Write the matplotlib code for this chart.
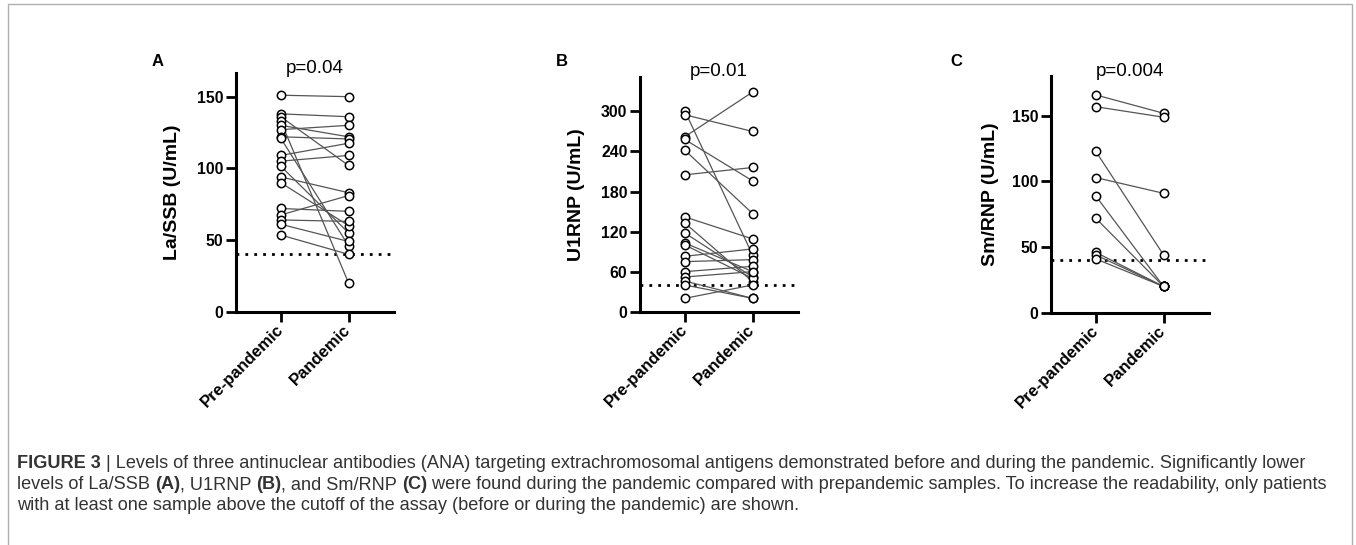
import matplotlib
matplotlib.use("Agg")
import matplotlib.pyplot as plt
from matplotlib.patches import Rectangle

plt.rcParams['font.family'] = ['Liberation Sans', 'DejaVu Sans']

# paired values (pre-pandemic -> pandemic)
la_pre = [151, 138, 136, 133, 130, 127, 122, 121, 109, 105, 101.5, 94, 90, 72, 67.5, 64, 61, 53.5]
la_pan = [150, 136, 102, 20, 122, 130, 120.5, 46, 117.5, 109, 55, 83, 60, 70, 81, 63, 49, 40]

u1_pre = [301, 295, 262, 258, 242, 205, 142, 133, 118, 103, 100, 83, 75, 60, 52, 46, 40, 20]
u1_pan = [85, 270, 329, 196, 147, 216, 109, 45, 52, 60, 50, 94, 78, 68, 60, 20, 20, 40]

sm_pre = [166, 157, 123, 103, 89, 72, 46, 44, 41]
sm_pan = [152, 149, 44, 91, 20, 20, 20, 20, 20]

groups = ['Pre-pandemic', 'Pandemic']
cutoff = 40

panels = [
    dict(letter='A', pre=la_pre, pan=la_pan, ylabel='La/SSB (U/mL)', p='p=0.04',
         yticks=[0, 50, 100, 150], ymax=166.5, rect=[236, 73, 158, 238.7],
         lab_x=-0.35, let_xy=(158, 62)),
    dict(letter='B', pre=u1_pre, pan=u1_pan, ylabel='U1RNP (U/mL)', p='p=0.01',
         yticks=[0, 60, 120, 180, 240, 300], ymax=352, rect=[640, 76.7, 158, 235],
         lab_x=-0.35, let_xy=(562, 62)),
    dict(letter='C', pre=sm_pre, pan=sm_pan, ylabel='Sm/RNP (U/mL)', p='p=0.004',
         yticks=[0, 50, 100, 150], ymax=180.4, rect=[1051, 76, 158, 236.7],
         lab_x=-0.33, let_xy=(956, 61)),
]

W, H = 1356, 545
fig = plt.figure(figsize=(W / 100, H / 100), dpi=100)

# thin grey frame around the figure
fig.add_artist(Rectangle((8 / W, -0.1), (1352 - 8) / W, 1.1 - 4 / H, transform=fig.transFigure,
                         fill=False, edgecolor='#b0b0b0', lw=1))

for pnl in panels:
    x0, ytop, w, h = pnl['rect']
    ax = fig.add_axes([x0 / W, 1 - (ytop + h) / H, w / W, h / H])
    for a, b in zip(pnl['pre'], pnl['pan']):
        ax.plot([0, 1], [a, b], color='#555555', lw=0.9, zorder=2)
    ax.plot([0] * len(pnl['pre']), pnl['pre'], 'o', ms=6, mfc='white', mec='black', mew=1.1, zorder=3)
    ax.plot([1] * len(pnl['pan']), pnl['pan'], 'o', ms=6, mfc='white', mec='black', mew=1.1, zorder=3)
    ax.axhline(cutoff, color='black', lw=2, ls=(0, (1, 2.2)), zorder=1)

    ax.set_xlim(-0.66, 1.67)
    ax.set_ylim(0, pnl['ymax'])
    ax.set_xticks([0, 1])
    ax.set_xticklabels(groups, rotation=45, ha='right', va='center', rotation_mode='anchor',
                       fontsize=12, fontweight='bold')
    ax.set_yticks(pnl['yticks'])
    ax.set_yticklabels([str(t) for t in pnl['yticks']], fontsize=11.4, fontweight='bold')
    ax.tick_params(axis='both', length=7, width=2, pad=2)
    ax.tick_params(axis='x', pad=4)
    for s in ['top', 'right']:
        ax.spines[s].set_visible(False)
    for s in ['left', 'bottom']:
        ax.spines[s].set_linewidth(2.2)
    ax.set_ylabel(pnl['ylabel'], fontsize=14, fontweight='bold')
    ax.yaxis.set_label_coords(pnl['lab_x'], 0.5)
    ax.text(0.5, 1.02, pnl['p'], transform=ax.transAxes, ha='center', va='center', fontsize=13.5)
    lx, ly = pnl['let_xy']
    fig.text(lx / W, 1 - ly / H, pnl['letter'], fontsize=12, fontweight='bold', ha='center', va='center')

# caption with mixed bold runs
cap = fig.add_axes([0, 0, 1, 1])
cap.axis('off')
cap.set_zorder(-1)

caption = [
    [("FIGURE 3", True),
     (" | Levels of three antinuclear antibodies (ANA) targeting extrachromosomal antigens "
      "demonstrated before and during the pandemic. Significantly lower", False)],
    [("levels of La/SSB ", False), ("(A)", True), (", U1RNP ", False), ("(B)", True),
     (", and Sm/RNP ", False), ("(C)", True),
     (" were found during the pandemic compared with prepandemic samples. To increase the "
      "readability, only patients", False)],
    [("with at least one sample above the cutoff of the assay (before or during the pandemic) "
      "are shown.", False)],
]
line_y = [472, 493, 514]
for parts, yb in zip(caption, line_y):
    prev = None
    for s, bold in parts:
        kw = dict(fontsize=13.1, color='#333333', fontweight='bold' if bold else 'normal',
                  ha='left', va='bottom')
        if prev is None:
            prev = cap.text(17 / W, 1 - yb / H, s, transform=cap.transAxes, **kw)
        else:
            prev = cap.annotate(s, xy=(1, 0), xycoords=prev, **kw)

fig.savefig('out.png', dpi=100)
